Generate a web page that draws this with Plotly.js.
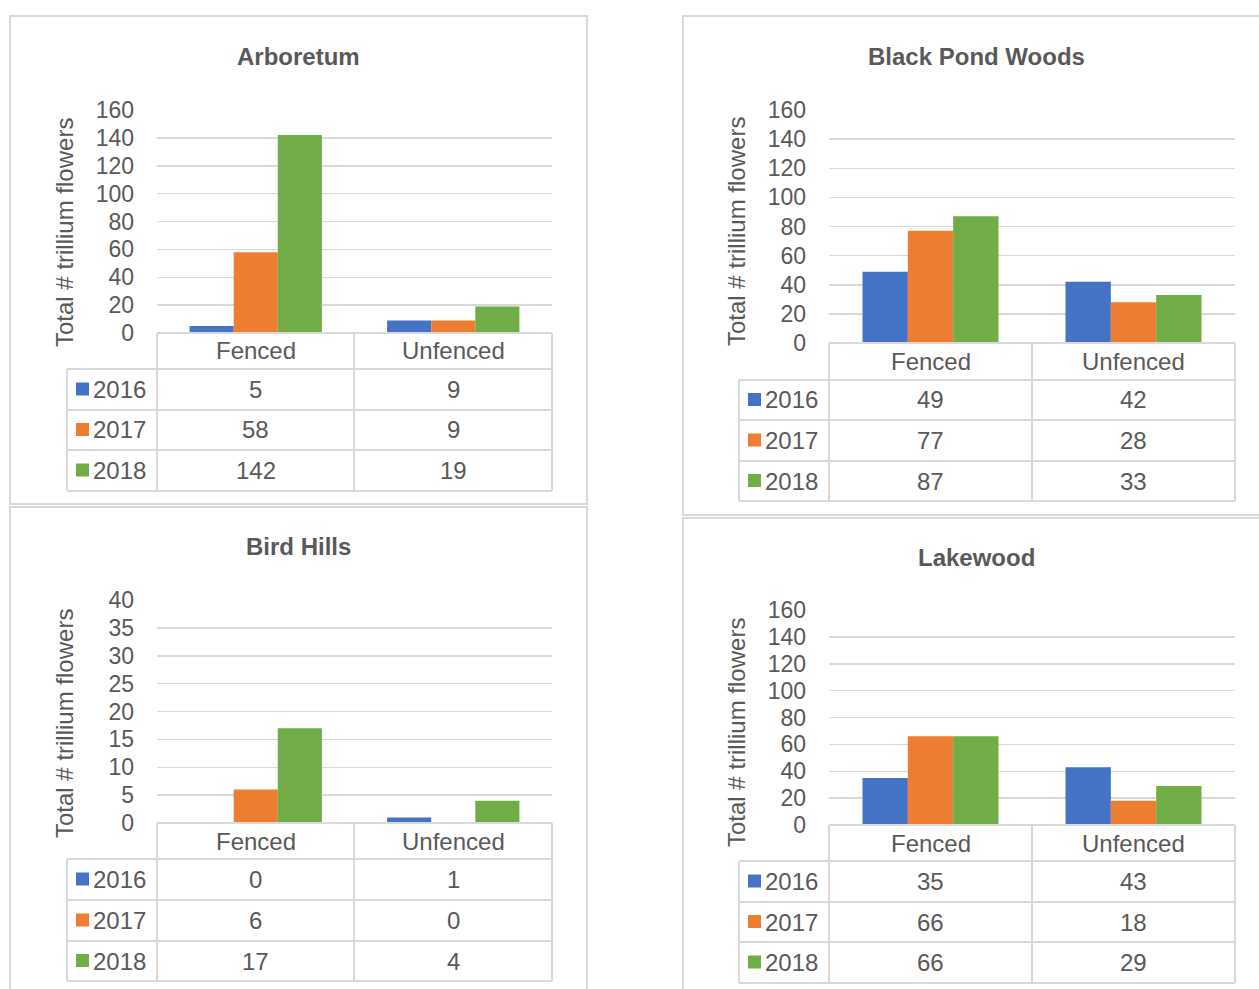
<!DOCTYPE html>
<html>
<head>
<meta charset="utf-8">
<script src="https://cdn.plot.ly/plotly-3.0.1.min.js"></script>
<style>
  html, body { margin: 0; padding: 0; background: #ffffff; }
  #chart { width: 1259px; height: 989px; }
</style>
</head>
<body>
<div id="chart"></div>
<script>
// Trillium flower counts per site, fenced vs unfenced plots, 2016-2018
const categories = ['Fenced', 'Unfenced'];
const years = ['2016', '2017', '2018'];
const siteNames = ['Arboretum', 'Black Pond Woods', 'Bird Hills', 'Lakewood'];

const arboretum2016 = [5, 9];
const arboretum2017 = [58, 9];
const arboretum2018 = [142, 19];

const blackPond2016 = [49, 42];
const blackPond2017 = [77, 28];
const blackPond2018 = [87, 33];

const birdHills2016 = [0, 1];
const birdHills2017 = [6, 0];
const birdHills2018 = [17, 4];

const lakewood2016 = [35, 43];
const lakewood2017 = [66, 18];
const lakewood2018 = [66, 29];

const yMaxes = [160, 160, 40, 160];
const yTickSteps = [20, 20, 5, 20];

const yearColors = ['#4472C4', '#ED7D31', '#70AD47'];
const textColor = '#595959';
const lineColor = '#d9d9d9';
const fontFamily = '"Liberation Sans", Arial, Helvetica, sans-serif';

const W = 1259, H = 989;
const X = px => px / W;
const Y = py => 1 - py / H;

// Pixel layout of each panel: frame box, plot box, table row lines, legend column edge, etc.
const panels = [
  { series: [arboretum2016, arboretum2017, arboretum2018],
    frame: [10, 16, 587, 504], plot: [157, 110, 552, 333],
    rows: [369, 410, 450, 491], legLeft: 67, colMid: 354, titleY: 56, yTitle: [64, 232] },
  { series: [blackPond2016, blackPond2017, blackPond2018],
    frame: [683, 16, 1275, 515], plot: [829, 110, 1235, 343],
    rows: [380, 420, 461, 501], legLeft: 739, colMid: 1032, titleY: 56, yTitle: [736, 232] },
  { series: [birdHills2016, birdHills2017, birdHills2018],
    frame: [10, 507, 587, 1000], plot: [157, 600, 552, 823],
    rows: [859, 900, 941, 981], legLeft: 67, colMid: 354, titleY: 546, yTitle: [64, 723] },
  { series: [lakewood2016, lakewood2017, lakewood2018],
    frame: [683, 518, 1275, 1000], plot: [829, 610, 1235, 825],
    rows: [861, 902, 942, 983], legLeft: 739, colMid: 1032, titleY: 557, yTitle: [736, 733] }
];

const traces = [];
const shapes = [];
const annotations = [];
const layout = {
  width: W, height: H,
  margin: { l: 0, r: 0, t: 0, b: 0, pad: 0 },
  paper_bgcolor: '#ffffff', plot_bgcolor: 'rgba(0,0,0,0)',
  barmode: 'group', bargap: 0.33, bargroupgap: 0,
  showlegend: false, hovermode: false,
  font: { family: fontFamily, color: textColor, size: 23 },
  shapes: shapes, annotations: annotations
};

function hline(x0, x1, y, width) {
  shapes.push({ type: 'line', xref: 'paper', yref: 'paper', x0: X(x0), x1: X(x1), y0: Y(y), y1: Y(y),
    line: { color: lineColor, width: width || 2 }, layer: 'above' });
}
function vline(x, y0, y1, width) {
  shapes.push({ type: 'line', xref: 'paper', yref: 'paper', x0: X(x), x1: X(x), y0: Y(y0), y1: Y(y1),
    line: { color: lineColor, width: width || 2 }, layer: 'above' });
}

panels.forEach((p, i) => {
  const n = i + 1;
  const xa = 'x' + (n === 1 ? '' : n), ya = 'y' + (n === 1 ? '' : n);
  const [pl, pt, pr, pb] = p.plot;

  layout['xaxis' + (n === 1 ? '' : n)] = {
    domain: [X(pl), X(pr)], anchor: ya, type: 'category',
    range: [-0.5, 1.5], showgrid: false, showline: false, zeroline: false,
    showticklabels: false, ticks: '', fixedrange: true
  };
  layout['yaxis' + (n === 1 ? '' : n)] = {
    domain: [Y(pb), Y(pt)], anchor: xa,
    range: [0, yMaxes[i]], dtick: yTickSteps[i], tick0: 0,
    showgrid: true, gridcolor: lineColor, gridwidth: 1.5,
    showline: false, zeroline: false, ticks: '',
    ticklabelstandoff: 22,
    tickfont: { family: fontFamily, size: 23, color: textColor }, fixedrange: true
  };

  years.forEach((yr, k) => {
    traces.push({
      type: 'bar', name: yr, x: categories, y: p.series[k],
      xaxis: xa, yaxis: ya,
      marker: { color: yearColors[k], line: { width: 0 } }
    });
  });

  // Panel frame
  const [fl, ft, fr, fb] = p.frame;
  shapes.push({ type: 'rect', xref: 'paper', yref: 'paper', x0: X(fl), x1: X(fr), y0: Y(fb), y1: Y(ft),
    line: { color: lineColor, width: 2 }, fillcolor: 'rgba(0,0,0,0)', layer: 'below' });

  // Title, centred over the panel
  annotations.push({ xref: 'paper', yref: 'paper', x: X((fl + Math.min(fr, 1269)) / 2),
    y: Y(p.titleY), text: '<b>' + siteNames[i] + '</b>', showarrow: false,
    xanchor: 'center', yanchor: 'middle', font: { family: fontFamily, size: 24, color: textColor } });

  // Y axis title
  annotations.push({ xref: 'paper', yref: 'paper', x: X(p.yTitle[0]), y: Y(p.yTitle[1]),
    text: 'Total # trillium flowers', textangle: -90, showarrow: false,
    xanchor: 'center', yanchor: 'middle', font: { family: fontFamily, size: 24, color: textColor } });

  // Data table grid
  const [r1, r2, r3, r4] = p.rows;
  hline(pl, pr, pb);
  [r1, r2, r3, r4].forEach(r => hline(p.legLeft, pr, r));
  vline(p.legLeft, r1, r4);
  vline(pl, pb, r4);
  vline(p.colMid, pb, r4);
  vline(pr, pb, r4);

  // Column headers
  categories.forEach(c => {
    annotations.push({ xref: xa, yref: 'paper', x: c, y: Y((pb + r1) / 2), text: c,
      showarrow: false, xanchor: 'center', yanchor: 'middle',
      font: { family: fontFamily, size: 24, color: textColor } });
  });

  // Rows: legend key + values
  const rowLines = [r1, r2, r3, r4];
  years.forEach((yr, k) => {
    const cy = (rowLines[k] + rowLines[k + 1]) / 2;
    shapes.push({ type: 'rect', xref: 'paper', yref: 'paper',
      x0: X(p.legLeft + 9), x1: X(p.legLeft + 22), y0: Y(cy - 7), y1: Y(cy + 6),
      fillcolor: yearColors[k], line: { width: 0 }, layer: 'above' });
    annotations.push({ xref: 'paper', yref: 'paper', x: X(p.legLeft + 24), y: Y(cy), text: yr,
      showarrow: false, xanchor: 'left', yanchor: 'middle',
      font: { family: fontFamily, size: 24, color: textColor } });
    categories.forEach((c, j) => {
      annotations.push({ xref: xa, yref: 'paper', x: c, y: Y(cy), text: String(p.series[k][j]),
        showarrow: false, xanchor: 'center', yanchor: 'middle',
        font: { family: fontFamily, size: 24, color: textColor } });
    });
  });
});

Plotly.newPlot('chart', traces, layout, { staticPlot: true, displayModeBar: false });
</script>
</body>
</html>
